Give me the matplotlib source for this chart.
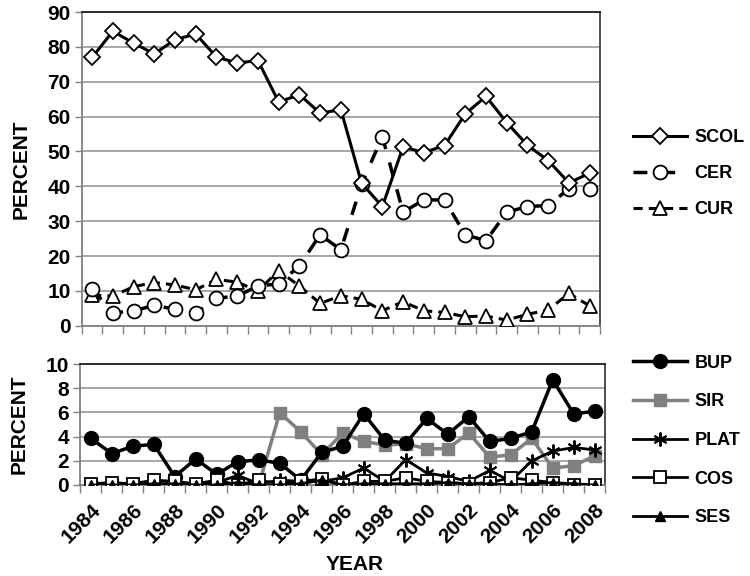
import matplotlib
matplotlib.use("Agg")
import matplotlib.pyplot as plt
import numpy as np

plt.rcParams['font.family'] = ['Liberation Sans', 'DejaVu Sans']
plt.rcParams['font.weight'] = 'bold'

years = list(range(1984, 2009))
tick_years = list(range(1984, 2009, 2))

scol = [77, 84.5, 81.1, 78, 82.1, 83.7, 77.1, 75.4, 76.1, 64.2, 66.3, 61.0, 62.0, 40.9,
        34.2, 51.3, 49.7, 51.7, 60.8, 65.8, 58.3, 51.8, 47.4, 41.0, 43.8]
cer = [10.5, 3.7, 4.2, 5.9, 4.7, 3.6, 7.9, 8.5, 11.4, 12.0, 17.2, 26.1, 21.8, 40.6,
       54.3, 32.6, 36.1, 36.1, 26.1, 24.4, 32.6, 34.2, 34.5, 39.3, 39.3]
cur = [8.8, 8.5, 11.2, 12.4, 11.7, 10.3, 13.3, 12.5, 10.0, 15.8, 11.4, 6.4, 8.6, 7.6,
       4.3, 6.9, 4.3, 3.8, 2.6, 2.8, 1.6, 3.3, 4.5, 9.3, 5.7]

bup = [3.86, 2.6, 3.2, 3.36, 0.7, 2.15, 0.88, 1.93, 2.07, 1.8, 0.4, 2.7, 3.2, 5.9,
       3.7, 3.45, 5.5, 4.2, 5.65, 3.6, 3.85, 4.4, 8.7, 5.87, 6.1]
sir = [0, 0, 0, 0, 0, 0, 0, 0, 0, 5.97, 4.4, 2.5, 4.3, 3.6,
       3.3, 3.4, 3.0, 3.0, 4.3, 2.3, 2.5, 3.85, 1.4, 1.6, 2.4]
plat = [0.1, 0.1, 0.0, 0.1, 0.1, 0.0, 0.2, 0.8, 0.1, 0.4, 0.3, 0.3, 0.6, 1.4,
        0.3, 2.1, 1.0, 0.7, 0.3, 1.2, 0.3, 2.0, 2.8, 3.1, 2.9]
cos_ = [0.1, 0.2, 0.1, 0.4, 0.3, 0.1, 0.4, 0.0, 0.4, 0.1, 0.3, 0.5, 0.0, 0.3,
        0.3, 0.6, 0.3, 0.2, 0.1, 0.2, 0.6, 0.4, 0.2, 0.0, 0.0]
ses = [0, 0, 0, 0.1, 0.1, 0, 0, 0.2, 0, 0, 0.1, 0.4, 0, 0.1,
       0.1, 0.1, 0.1, 0.2, 0.1, 0.1, 0, 0.1, 0.2, 0.1, 0]

fig = plt.figure(figsize=(7.5, 5.76), dpi=100)
ax1 = fig.add_axes([0.109, 0.4345, 0.691, 0.5445])
ax2 = fig.add_axes([0.107, 0.158, 0.700, 0.210])

x = np.arange(len(years))
grid_c = '#a0a0a0'


def style_axes(ax, ymax, ystep):
    ax.set_xlim(-0.5, len(years) - 0.5)
    ax.set_ylim(0, ymax)
    ax.set_yticks(np.arange(0, ymax + 0.1, ystep))
    ax.yaxis.grid(True, color=grid_c, lw=1.3)
    ax.set_axisbelow(True)
    ax.set_xticks(np.arange(-0.5, len(years), 1))
    ax.tick_params(axis='x', length=6, width=1, color='#808080', labelbottom=False)
    ax.tick_params(axis='y', length=5, width=1, color='#808080', labelsize=15, pad=3)
    ax.spines['left'].set_color('#808080')
    ax.spines['bottom'].set_color('#808080')
    ax.spines['top'].set_color('#202020')
    ax.spines['right'].set_color('#404040')
    for s in ax.spines.values():
        s.set_linewidth(1.3)
    for lab in ax.get_yticklabels():
        lab.set_fontweight('bold')


style_axes(ax1, 90, 10)
style_axes(ax2, 10, 2)

h1 = ax1.plot(x, scol, color='black', lw=2.2, marker='D', ms=8, mfc='white',
              mec='black', mew=1.3, label='SCOL', zorder=5)[0]
h2 = ax1.plot(x, cer, color='black', lw=2.5, ls=(0, (4, 4)), marker='o', ms=10,
              mfc='white', mec='black', mew=1.3, label='CER', zorder=4)[0]
h3 = ax1.plot(x, cur, color='black', lw=2.2, ls=(0, (3, 2)), marker='^', ms=10,
              mfc='white', mec='black', mew=1.3, label='CUR', zorder=3)[0]

ax1.set_ylabel('PERCENT', fontsize=15, fontweight='bold', labelpad=12)

g2 = ax2.plot(x, sir, color='#808080', lw=2.5, marker='s', ms=8, mfc='#808080',
              mec='#808080', label='SIR', zorder=3)[0]
g1 = ax2.plot(x, bup, color='black', lw=2.5, marker='o', ms=10, mfc='black',
              mec='black', label='BUP', zorder=4)[0]
g3 = ax2.plot(x, plat, color='black', lw=2.0, marker=(6, 2, 0), ms=10, mew=1.4,
              label='PLAT', zorder=5)[0]
g4 = ax2.plot(x, cos_, color='black', lw=2.0, marker='s', ms=8, mfc='white',
              mec='black', mew=1.3, label='COS', zorder=6)[0]
g5 = ax2.plot(x, ses, color='black', lw=2.0, marker='^', ms=7, mfc='black',
              mec='black', label='SES', zorder=7)[0]

ax2.set_ylabel('PERCENT', fontsize=15, fontweight='bold', labelpad=12)
ax2.set_xlabel('YEAR', fontsize=15, fontweight='bold')
ax2.xaxis.set_label_coords(0.522, -0.58)

# year labels at every second category
ax2.set_xticks(np.arange(-0.5, len(years), 1))
ax2.set_xticks([years.index(y) for y in tick_years], minor=True)
ax2.set_xticklabels([str(y) for y in tick_years], minor=True, rotation=45,
                    ha='right', rotation_mode='anchor', fontsize=15, fontweight='bold')
ax2.tick_params(axis='x', which='minor', length=0, labelbottom=True, pad=11)

leg1 = fig.legend(handles=[h1, h2, h3], loc='upper left', bbox_to_anchor=(0.844, 0.776),
                  frameon=False, handlelength=3.0, handletextpad=0.4, borderpad=0,
                  borderaxespad=0, labelspacing=1.05,
                  prop={'weight': 'bold', 'size': 13})
leg2 = fig.legend(handles=[g1, g2, g3, g4, g5], loc='upper left',
                  bbox_to_anchor=(0.844, 0.384), frameon=False, handlelength=3.0,
                  handletextpad=0.4, borderpad=0, borderaxespad=0,
                  labelspacing=1.2, prop={'weight': 'bold', 'size': 13})

fig.savefig('out.png', dpi=100)
